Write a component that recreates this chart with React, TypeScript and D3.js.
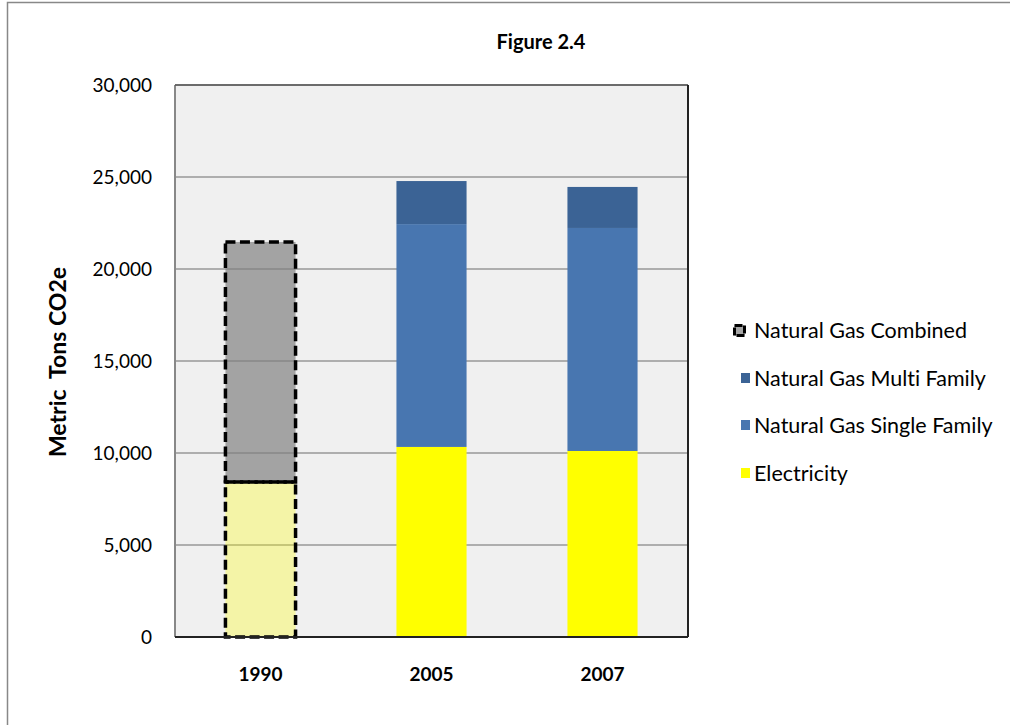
import React from "react";
import * as d3 from "d3";

const categories = ["1990", "2005", "2007"];
const electricity = [8420, 10330, 10110];
const gasSingle = [0, 12110, 12120];
const gasMulti = [0, 2340, 2230];
const gasCombined = [13050, 0, 0];
const yTicks = [0, 5000, 10000, 15000, 20000, 25000, 30000];
const seriesNames = ["Natural Gas Combined", "Natural Gas Multi Family", "Natural Gas Single Family", "Electricity"];

const FONT = "Lato, 'Open Sans', sans-serif";

export default function App() {
  const W = 1010, H = 725;
  const left = 175, right = 688, top = 85, bottom = 637;
  const x = d3.scaleBand<string>().domain(categories).range([left, right]).paddingInner(0.59).paddingOuter(0.295);
  const y = d3.scaleLinear().domain([0, 30000]).range([bottom, top]);
  const fmt = d3.format(",");

  const fills: JSX.Element[] = [];
  const outlines: JSX.Element[] = [];
  categories.forEach((c, i) => {
    const bx = x(c)!;
    const bw = x.bandwidth();
    const stack = [
      { v: electricity[i], fill: "#ffff00", op: i === 0 ? 0.3 : 1, dashed: i === 0 },
      { v: gasSingle[i], fill: "#4876b0", op: 1, dashed: false },
      { v: gasMulti[i], fill: "#3b6395", op: 1, dashed: false },
      { v: gasCombined[i], fill: "#7f7f7f", op: 0.68, dashed: true },
    ];
    let base = 0;
    stack.forEach((s, j) => {
      if (s.v <= 0) return;
      const y0 = y(base), y1 = y(base + s.v);
      base += s.v;
      fills.push(
        <rect key={`f${i}-${j}`} x={bx} y={y1} width={bw} height={y0 - y1} fill={s.fill} fillOpacity={s.op} />
      );
      if (s.dashed) {
        outlines.push(
          <rect key={`o${i}-${j}`} x={bx} y={y1} width={bw} height={y0 - y1} fill="none"
            stroke="#000" strokeWidth={3.5} strokeDasharray="10,4.5" strokeLinecap="butt" />
        );
      }
    });
  });

  const legendColors = ["#a6a6a6", "#3b6395", "#4876b0", "#ffff00"];
  const legendY = [330, 378, 425, 473];

  return (
    <svg width={W} height={H} style={{ position: "absolute", left: 0, top: 0, fontVariantLigatures: "none" }}>
      <rect x={0} y={0} width={W} height={H} fill="#fff" />
      <rect x={7.5} y={2.5} width={W + 20} height={H + 20} fill="#fff" stroke="#888" strokeWidth={1.5} />
      <text x={541} y={49} textAnchor="middle" fontFamily={FONT} fontWeight={700} fontSize={20}>Figure 2.4</text>
      <rect x={left} y={top} width={right - left} height={bottom - top} fill="#f0f0f0" />
      {yTicks.map((t) => (
        <line key={t} x1={left} x2={right} y1={y(t)} y2={y(t)} stroke="#999" strokeWidth={1.5} />
      ))}
      {fills}
      {outlines}
      <line x1={left} x2={left} y1={top} y2={bottom} stroke="#888" strokeWidth={2} />
      <line x1={left} x2={right} y1={top} y2={top} stroke="#555" strokeWidth={1.5} />
      <line x1={right} x2={right} y1={top} y2={bottom} stroke="#222" strokeWidth={2} />
      <line x1={left} x2={right} y1={bottom} y2={bottom} stroke="#222" strokeWidth={2} />
      {yTicks.map((t) => (
        <text key={t} x={152} y={y(t) + 6.5} textAnchor="end" fontFamily={FONT} fontSize={19} fill="#000">{fmt(t)}</text>
      ))}
      {categories.map((c) => (
        <text key={c} x={x(c)! + x.bandwidth() / 2} y={681} textAnchor="middle" fontFamily={FONT} fontWeight={700} fontSize={19}>{c}</text>
      ))}
      <text transform="translate(66,362) rotate(-90)" textAnchor="middle" fontFamily={FONT} fontWeight={700} fontSize={23} style={{ whiteSpace: "pre" }}>Metric  Tons CO2e</text>
      {seriesNames.map((n, i) => (
        <g key={n}>
          {i === 0 ? (
            <rect x={734.5} y={legendY[i] - 4.5} width={10} height={10} fill={legendColors[i]}
              stroke="#000" strokeWidth={3} strokeDasharray="8,2" />
          ) : (
            <rect x={741} y={legendY[i] - 5} width={9} height={10} fill={legendColors[i]} />
          )}
          <text x={754} y={legendY[i] + 7.5} fontFamily={FONT} fontSize={21.5} fill="#000" style={{ fontVariantLigatures: "none" }}>{n}</text>
        </g>
      ))}
    </svg>
  );
}
